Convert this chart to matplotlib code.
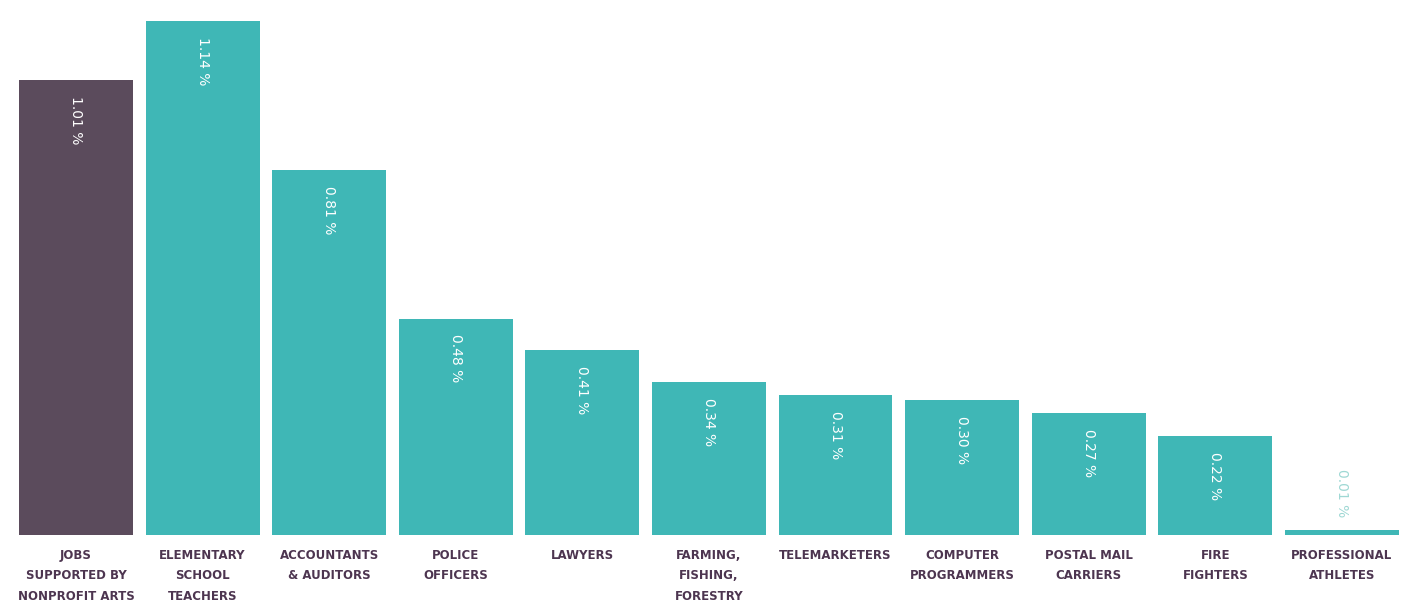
import numpy as np
import matplotlib.pyplot as plt

categories = ['JOBS\nSUPPORTED BY\nNONPROFIT ARTS', 'ELEMENTARY\nSCHOOL\nTEACHERS',
              'ACCOUNTANTS\n& AUDITORS', 'POLICE\nOFFICERS', 'LAWYERS',
              'FARMING,\nFISHING,\nFORESTRY', 'TELEMARKETERS', 'COMPUTER\nPROGRAMMERS',
              'POSTAL MAIL\nCARRIERS', 'FIRE\nFIGHTERS', 'PROFESSIONAL\nATHLETES']
values = [1.01, 1.14, 0.81, 0.48, 0.41, 0.34, 0.31, 0.30, 0.27, 0.22, 0.01]
value_labels = ['1.01 %', '1.14 %', '0.81 %', '0.48 %', '0.41 %', '0.34 %',
                '0.31 %', '0.30 %', '0.27 %', '0.22 %', '0.01 %']

purple = '#5b4b5c'
teal = '#3fb7b6'
label_color = '#4d3550'

def main():
    fig = plt.figure(figsize=(14.08, 6.10), dpi=100)
    ax = fig.add_axes([0.009, 0.123, 0.989, 0.842])

    x = np.arange(len(values))
    colors = [purple] + [teal] * (len(values) - 1)
    ax.bar(x, values, width=0.9, color=colors)

    # value labels, rotated, near the top of each bar
    for i, (v, lab) in enumerate(zip(values, value_labels)):
        if v < 0.05:
            ax.text(i, v + 0.03, lab, rotation=-90, ha='center', va='bottom',
                    color='#9fd8d4', fontsize=10)
        else:
            ax.text(i, v - 0.035, lab, rotation=-90, ha='center', va='top',
                    color='white', fontsize=10)

    ax.set_xticks(x)
    ax.set_xticklabels(categories, fontsize=8.5, fontweight='bold',
                       color=label_color, linespacing=1.75)
    ax.tick_params(axis='x', length=0, pad=10)
    ax.set_yticks([])
    for s in ax.spines.values():
        s.set_visible(False)
    ax.set_xlim(-0.5, len(values) - 0.5)
    ax.set_ylim(0, 1.14)

    fig.savefig('out.png', dpi=100, facecolor='white')

if __name__ == "__main__":
    main()
